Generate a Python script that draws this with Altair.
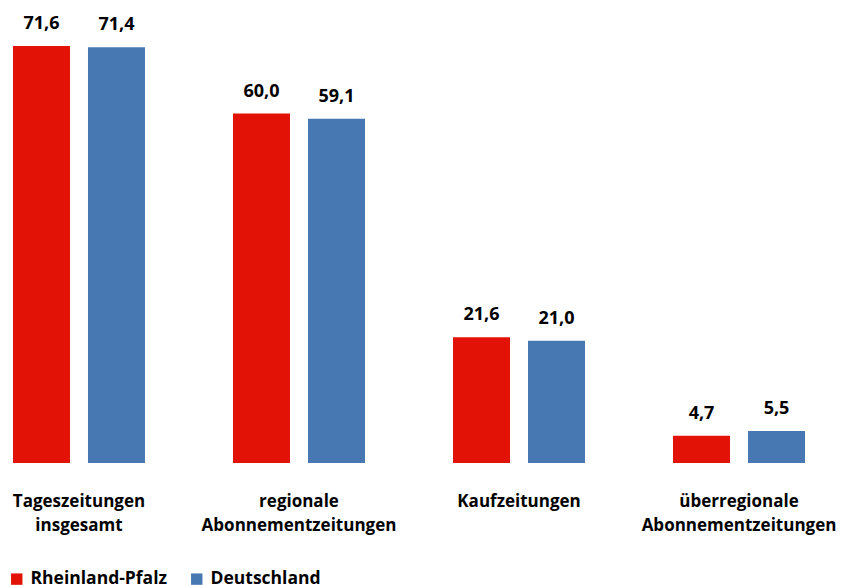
import altair as alt
import pandas as pd

categories = [
    "Tageszeitungen insgesamt",
    "regionale Abonnementzeitungen",
    "Kaufzeitungen",
    "überregionale Abonnementzeitungen",
]
series = ["Rheinland-Pfalz", "Deutschland"]
rlp_values = [71.6, 60.0, 21.6, 4.7]
de_values = [71.4, 59.1, 21.0, 5.5]
colors = ["#E21206", "#4878B2"]

rows = []
for cat, a, b in zip(categories, rlp_values, de_values):
    rows.append({"Kategorie": cat, "Region": series[0], "Wert": a})
    rows.append({"Kategorie": cat, "Region": series[1], "Wert": b})
df = pd.DataFrame(rows)

FONT = "Open Sans"

x_enc = alt.X(
    "Kategorie:N",
    sort=categories,
    scale=alt.Scale(paddingInner=0.4, paddingOuter=0.059),
    axis=alt.Axis(
        title=None,
        domain=False,
        ticks=False,
        labelAngle=0,
        labelExpr="split(datum.label, ' ')",
        labelFont=FONT,
        labelFontSize=17,
        labelFontWeight="bold",
        labelColor="#000000",
        labelPadding=30,
        labelLineHeight=24,
        labelBaseline="top",
        labelLimit=0,
    ),
)
xoff = alt.XOffset(
    "Region:N", sort=series, scale=alt.Scale(paddingInner=0.24, paddingOuter=0)
)
y_enc = alt.Y("Wert:Q", scale=alt.Scale(domain=[0, 79.5]), axis=None)

base = alt.Chart(df).encode(x=x_enc, xOffset=xoff, y=y_enc)

bars = base.mark_bar().encode(
    color=alt.Color(
        "Region:N",
        sort=series,
        scale=alt.Scale(domain=series, range=colors),
        legend=alt.Legend(
            title=None,
            orient="none",
            direction="horizontal",
            legendX=8,
            legendY=570,
            symbolType="square",
            symbolSize=130,
            symbolStrokeWidth=0,
            labelFont=FONT,
            labelFontSize=17.5,
            labelFontWeight="bold",
            labelColor="#000000",
            labelOffset=5,
            labelLimit=0,
            columnPadding=20,
        ),
    )
)

labels = base.mark_text(
    font=FONT, fontSize=18, fontWeight="bold", color="#000000",
    baseline="alphabetic", dy=-17,
).transform_calculate(
    Beschriftung="replace(format(datum.Wert, '.1f'), '.', ',')"
).encode(text="Beschriftung:N")

chart = (
    alt.layer(bars, labels)
    .properties(
        width=818,
        height=463,
        padding={"left": 0, "top": 0, "right": 24, "bottom": 122},
        autosize=alt.AutoSizeParams(type="none"),
        background="#ffffff",
    )
    .configure_view(stroke=None)
)

chart.save("out.html", embed_options={"renderer": "svg", "actions": False})
